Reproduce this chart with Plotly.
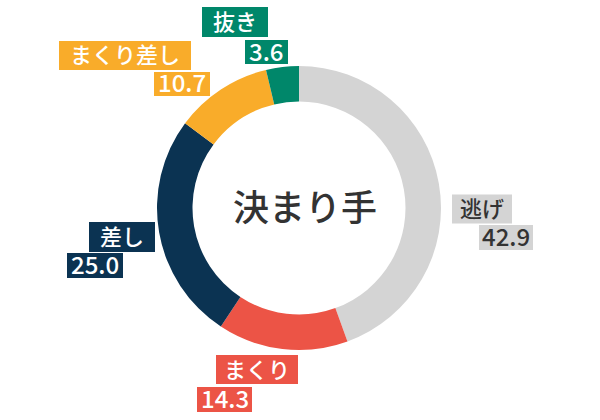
import plotly.graph_objects as go

# data
labels = ["逃げ", "まくり", "差し", "まくり差し", "抜き"]
values = [42.9, 14.3, 25.0, 10.7, 3.6]
colors = ["#d4d4d4", "#ec5446", "#0b3352", "#f9ac2a", "#00876a"]
text_colors = ["#333333", "white", "white", "white", "white"]

# label boxes in pixels: centre x, centre y, width, height
name_box = [(482, 209, 60, 29), (257, 369.5, 82, 29), (122, 237, 66, 30),
            (125, 55.5, 132, 29), (235, 22, 66, 30)]
value_box = [(506, 237.5, 54, 25), (224.5, 399.5, 55, 25), (95, 265.5, 56, 25),
             (182, 84, 56, 24), (266.5, 52, 43, 24)]

W, H = 600, 420
cx, cy, r = 299, 208, 142

fig = go.Figure()
fig.add_trace(go.Pie(
    labels=labels, values=values, sort=False, direction="clockwise",
    rotation=0, hole=0.75, textinfo="none", hoverinfo="label+value",
    marker=dict(colors=colors, line=dict(width=0)),
    domain=dict(x=[(cx - r) / W, (cx + r) / W], y=[1 - (cy + r) / H, 1 - (cy - r) / H]),
))

font_family = "Noto Sans CJK JP"
for lab, val, col, tc, nb, vb in zip(labels, values, colors, text_colors, name_box, value_box):
    for txt, (bx, by, bw, bh), size in ((lab, nb, 22), (f"{val:.1f}", vb, 24)):
        # coloured box behind the label
        fig.add_shape(type="rect", xref="paper", yref="paper", layer="above",
                      x0=(bx - bw / 2) / W, x1=(bx + bw / 2) / W,
                      y0=1 - (by + bh / 2) / H, y1=1 - (by - bh / 2) / H,
                      fillcolor=col, line=dict(width=0))
        fig.add_annotation(x=bx / W, y=1 - by / H, xref="paper", yref="paper",
                           xanchor="center", yanchor="middle", showarrow=False,
                           text=txt, borderpad=0, yshift=2,
                           font=dict(family=font_family, size=size, color=tc, weight=500))

fig.add_annotation(x=305 / W, y=1 - 205 / H, xref="paper", yref="paper",
                   xanchor="center", yanchor="middle", showarrow=False,
                   text="決まり手", font=dict(family=font_family, size=36, color="#333333", weight=500))

fig.update_layout(width=W, height=H, margin=dict(l=0, r=0, t=0, b=0),
                  showlegend=False, paper_bgcolor="white", plot_bgcolor="white")

fig.write_html("out.html", config={"displayModeBar": False},
               post_script="document.body.style.margin='0';")
